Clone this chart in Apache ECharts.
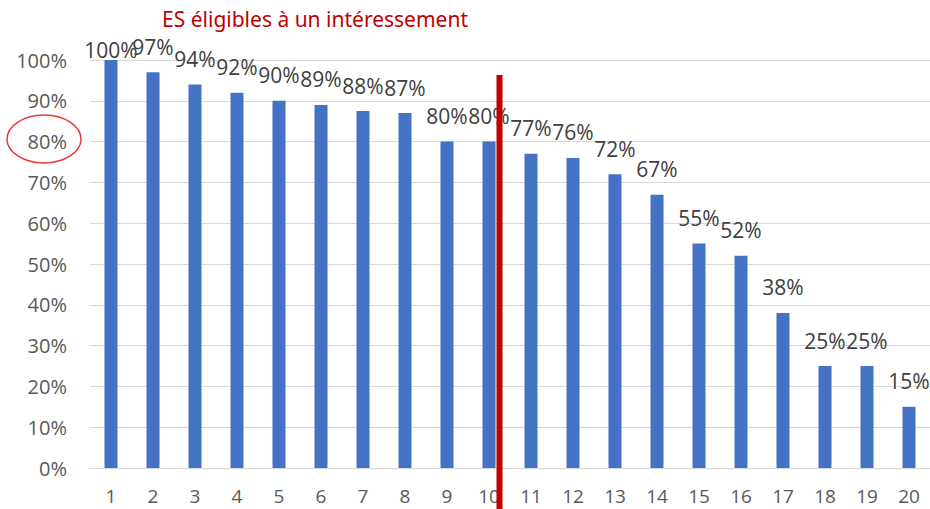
<!DOCTYPE html>
<html>
<head>
<meta charset="utf-8">
<script src="https://cdn.jsdelivr.net/npm/echarts@6/dist/echarts.min.js"></script>
<style>
  html, body { margin: 0; padding: 0; background: #fff; }
  #chart { width: 930px; height: 509px; }
</style>
</head>
<body>
<div id="chart"></div>
<script>
var categories = ['1', '2', '3', '4', '5', '6', '7', '8', '9', '10', '11', '12', '13', '14', '15', '16', '17', '18', '19', '20'];
var shares = [100, 97, 94, 92, 90, 89, 87.5, 87, 80, 80, 77, 76, 72, 67, 55, 52, 38, 25, 25, 15];
var yTicks = [0, 10, 20, 30, 40, 50, 60, 70, 80, 90, 100];
// red separator after rank 10 (x in category units, y in %)
var cutLine = [[9.25, 96.3], [9.25, -12]];

var font = 'Open Sans';
var chart = echarts.init(document.getElementById('chart'), null, { renderer: 'svg' });

var barData = shares.map(function(v, i) {
  var d = { value: v };
  // Excel pushes the top label down inside the plot area
  if (i === 0) d.label = { distance: 0 };
  return d;
});

chart.setOption({
  animation: false,
  title: {
    text: 'ES éligibles à un intéressement',
    left: 310, top: 3, textAlign: 'center',
    textStyle: { color: '#C00000', fontSize: 21, fontWeight: 'normal', fontFamily: 'Noto Sans' }
  },
  grid: { left: 90, top: 60, width: 844, bottom: 41 },
  xAxis: [
    {
      type: 'category',
      data: categories,
      axisLine: { lineStyle: { color: '#D9D9D9', width: 1 } },
      axisTick: { show: false },
      axisLabel: { color: '#595959', fontSize: 19, lineHeight: 16, fontFamily: font, margin: 20 }
    },
    { type: 'value', min: -0.5, max: 19.5, show: false }
  ],
  yAxis: {
    type: 'value',
    min: 0, max: 100, interval: 10,
    axisLine: { show: false },
    axisTick: { show: false },
    splitLine: { lineStyle: { color: '#D9D9D9', width: 1 } },
    axisLabel: {
      color: '#595959', fontSize: 20, fontFamily: font, margin: 23,
      formatter: function(v) { return yTicks.indexOf(v) >= 0 ? v + '%' : ''; }
    }
  },
  series: [
    {
      type: 'bar',
      data: barData,
      barWidth: 13,
      itemStyle: { color: '#4472C4' },
      label: {
        show: true, position: 'top', distance: 15,
        color: '#404040', fontSize: 21, fontFamily: font,
        formatter: function(p) { return Math.round(p.value) + '%'; }
      }
    },
    {
      type: 'line',
      xAxisIndex: 1,
      data: cutLine,
      symbol: 'none',
      clip: false,
      silent: true,
      lineStyle: { color: '#C00000', width: 6 }
    }
  ],
  graphic: [
    {
      type: 'ellipse',
      shape: { cx: 44, cy: 139, rx: 37, ry: 24 },
      style: { fill: 'none', stroke: '#E8393A', lineWidth: 1.5 },
      silent: true
    }
  ]
});
window.addEventListener('resize', function() { chart.resize(); });
</script>
</body>
</html>
